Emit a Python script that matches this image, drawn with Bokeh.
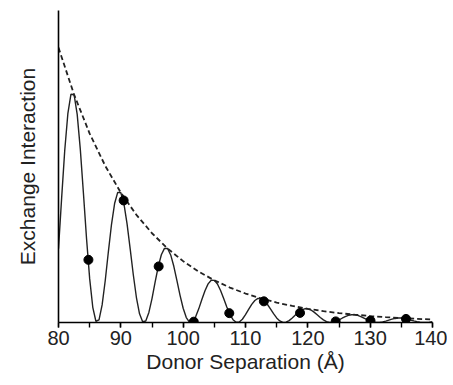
from bokeh.plotting import figure
from bokeh.models import Range1d, SingleIntervalTicker, FixedTicker
from bokeh.embed import file_html
from bokeh.resources import INLINE

# Oscillating exchange interaction (x in Å)
osc_x = [80.0, 80.5, 81.0, 81.5, 82.0, 82.5, 83.0, 83.5, 84.0, 84.5, 85.0, 85.5, 86.0, 86.5, 87.0,
         87.5, 88.0, 88.5, 89.0, 89.5, 90.0, 90.5, 91.0, 91.5, 92.0, 92.5, 93.0, 93.5, 94.0, 94.5,
         95.0, 95.5, 96.0, 96.5, 97.0, 97.5, 98.0, 98.5, 99.0, 99.5, 100.0, 100.5, 101.0, 101.5, 102.0,
         102.5, 103.0, 103.5, 104.0, 104.5, 105.0, 105.5, 106.0, 106.5, 107.0, 107.5, 108.0, 108.5, 109.0, 109.5,
         110.0, 110.5, 111.0, 111.5, 112.0, 112.5, 113.0, 113.5, 114.0, 114.5, 115.0, 115.5, 116.0, 116.5, 117.0,
         117.5, 118.0, 118.5, 119.0, 119.5, 120.0, 120.5, 121.0, 121.5, 122.0, 122.5, 123.0, 123.5, 124.0, 124.5,
         125.0, 125.5, 126.0, 126.5, 127.0, 127.5, 128.0, 128.5, 129.0, 129.5, 130.0, 130.5, 131.0, 131.5, 132.0,
         132.5, 133.0, 133.5, 134.0, 134.5, 135.0, 135.5, 136.0, 136.5, 137.0, 137.5, 138.0, 138.5, 139.0, 139.5,
         140.0]
osc_y = [0.2683, 0.4514, 0.6255, 0.7595, 0.8305, 0.8287, 0.7569, 0.6297, 0.4700, 0.3047, 0.1595, 0.0553, 0.0045, 0.0096, 0.0640,
         0.1529, 0.2572, 0.3564, 0.4328, 0.4732, 0.4722, 0.4313, 0.3588, 0.2678, 0.1736, 0.0909, 0.0315, 0.0026, 0.0055, 0.0365,
         0.0871, 0.1466, 0.2031, 0.2466, 0.2697, 0.2691, 0.2458, 0.2045, 0.1526, 0.0989, 0.0518, 0.0180, 0.0015, 0.0031, 0.0208,
         0.0496, 0.0835, 0.1157, 0.1405, 0.1536, 0.1533, 0.1400, 0.1165, 0.0870, 0.0564, 0.0295, 0.0102, 0.0008, 0.0018, 0.0118,
         0.0283, 0.0476, 0.0659, 0.0801, 0.0875, 0.0873, 0.0798, 0.0664, 0.0495, 0.0321, 0.0168, 0.0058, 0.0005, 0.0010, 0.0067,
         0.0161, 0.0271, 0.0376, 0.0456, 0.0499, 0.0498, 0.0455, 0.0378, 0.0282, 0.0183, 0.0096, 0.0033, 0.0003, 0.0006, 0.0038,
         0.0092, 0.0155, 0.0214, 0.0260, 0.0284, 0.0284, 0.0259, 0.0216, 0.0161, 0.0104, 0.0055, 0.0019, 0.0002, 0.0003, 0.0022,
         0.0052, 0.0088, 0.0122, 0.0148, 0.0162, 0.0162, 0.0148, 0.0123, 0.0092, 0.0059, 0.0031, 0.0011, 0.0001, 0.0002, 0.0012,
         0.0030]

# Dashed envelope
env_x = [80.0, 82.5, 85.0, 87.5, 90.0, 92.5, 95.0, 97.5, 100.0, 102.5, 105.0, 107.5, 110.0,
         112.5, 115.0, 117.5, 120.0, 122.5, 125.0, 127.5, 130.0, 132.5, 135.0, 137.5, 140.0]
env_y = [1.0, 0.829, 0.6873, 0.5698, 0.4724, 0.3916, 0.3247, 0.2691, 0.2231, 0.1850, 0.1534, 0.1271, 0.1054,
         0.0874, 0.0724, 0.0601, 0.0498, 0.0413, 0.0342, 0.0284, 0.0235, 0.0195, 0.0162, 0.0134, 0.0111]

# Lattice-site points
dot_x = [84.8, 90.45, 96.07, 101.7, 107.4, 112.95, 118.75, 124.47, 130.05, 135.75]
dot_y = [0.228, 0.444, 0.204, 0.003, 0.034, 0.077, 0.035, 0.004, 0.007, 0.013]

p = figure(width=447, height=385, output_backend="svg", toolbar_location=None,
           x_range=Range1d(80, 140), y_range=Range1d(0, 1.135),
           min_border_left=58, min_border_right=15, min_border_top=10, min_border_bottom=63)
p.outline_line_color = None
p.xgrid.visible = False
p.ygrid.visible = False
p.background_fill_color = "white"

p.line(env_x, env_y, line_color="#222222", line_width=1.8, line_dash="5 3")
p.line(osc_x, osc_y, line_color="#222222", line_width=1.4)
p.scatter(dot_x, dot_y, size=9, fill_color="black", line_color="black")

xa = p.xaxis[0]
xa.ticker = SingleIntervalTicker(interval=10, num_minor_ticks=2)
xa.axis_label = "Donor Separation (Å)"
xa.axis_label_text_font = "Liberation Sans"
xa.axis_label_text_font_style = "normal"
xa.axis_label_text_font_size = "21px"
xa.axis_label_text_color = "#222222"
xa.axis_label_standoff = 2
xa.major_label_text_font = "Liberation Sans"
xa.major_label_text_font_size = "20px"
xa.major_label_text_color = "#222222"
xa.major_label_standoff = 3
xa.axis_line_width = 1.6
xa.axis_line_color = "black"
xa.major_tick_line_width = 1.4
xa.minor_tick_line_width = 1.4
xa.major_tick_in = 0
xa.major_tick_out = 5
xa.minor_tick_in = 0
xa.minor_tick_out = 5

ya = p.yaxis[0]
ya.ticker = FixedTicker(ticks=[])
ya.axis_label = "Exchange Interaction"
ya.axis_label_text_font = "Liberation Sans"
ya.axis_label_text_font_style = "normal"
ya.axis_label_text_font_size = "21px"
ya.axis_label_text_color = "#222222"
ya.axis_label_standoff = 20
ya.axis_line_width = 1.6
ya.axis_line_color = "black"
ya.major_tick_out = 0
ya.major_tick_in = 0
ya.minor_tick_out = 0
ya.minor_tick_in = 0

open("out.html", "w").write(file_html(p, INLINE))
